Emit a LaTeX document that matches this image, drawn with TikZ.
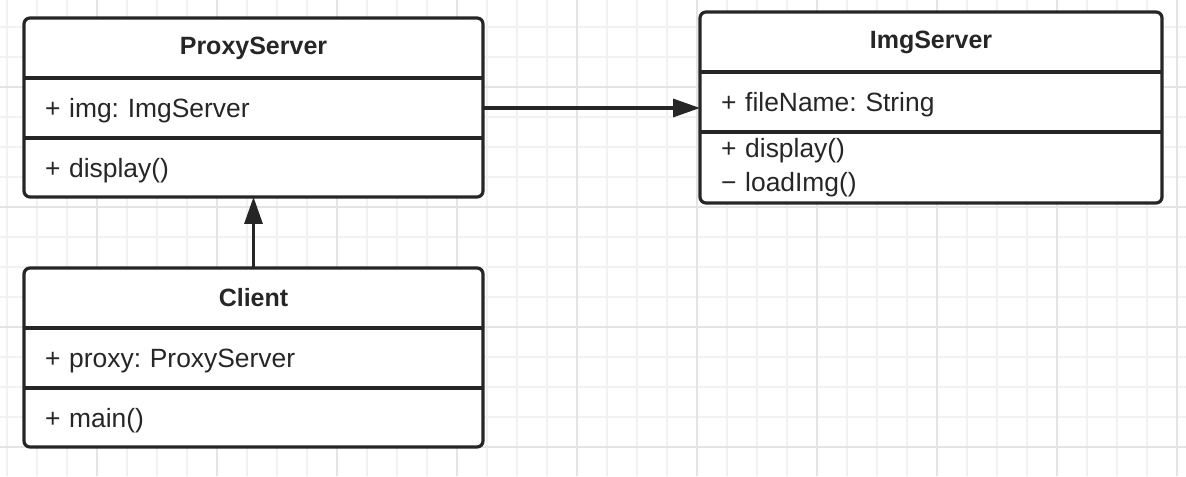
\documentclass[tikz,border=0pt]{standalone}
\usepackage{fontspec}
\setmainfont{Liberation Sans}
\usetikzlibrary{arrows.meta, positioning}
\definecolor{umlline}{HTML}{262626}
\definecolor{gridminor}{HTML}{F1F1F1}
\definecolor{gridmajor}{HTML}{E4E4E4}
\tikzstyle{gridline} = [draw=gridminor, line width=0.9pt]
\tikzstyle{classbox} = [draw=umlline, fill=white, line width=1.6pt, rounded corners=3pt, inner sep=0pt, outer sep=0pt]
\tikzstyle{classname} = [minimum height=30pt, inner sep=0pt, outer sep=0pt, text width=229.5pt, align=center, text=umlline, font=\fontsize{12.5}{17}\selectfont\bfseries]
\tikzstyle{member} = [minimum height=30pt, inner xsep=10.5pt, inner ysep=0pt, outer sep=0pt, text width=208.5pt, align=left, text=umlline]
\tikzstyle{row} = [member, text height=9.5pt, text depth=0pt]
\tikzstyle{divider} = [draw=umlline, line width=1.6pt]
\tikzstyle{arrow} = [draw=umlline, line width=1.6pt, -{Triangle[length=13.5pt, width=9pt]}]
\frenchspacing

\begin{document}
\begin{tikzpicture}[x=1pt, y=1pt, font=\fontsize{13.2}{17}\selectfont]
        \useasboundingbox (0,0) rectangle (593,238);
        % squared paper behind the classes
        \foreach \x in {3.5,18.5,...,590} \draw[gridline] (\x,0) -- (\x,238);
        \foreach \y in {14.5,29.5,...,230} \draw[gridline] (0,\y) -- (593,\y);
        \foreach \x in {48.5,108.5,...,590} \draw[gridline, draw=gridmajor] (\x,0) -- (\x,238);
        \foreach \y in {14.5,74.5,...,230} \draw[gridline, draw=gridmajor] (0,\y) -- (593,\y);

        \node[classbox, minimum width=229.5pt, minimum height=89.5pt, anchor=north west] (proxy) at (12,229) {};
        \node[classname, below=0pt of proxy.north] (proxyname) {ProxyServer};
        \node[row, below=0pt of proxyname] (proxyattr) {+ img: ImgServer};
        \node[row, below=0pt of proxyattr] (proxyops) {+ display()};

        \node[classbox, minimum width=231pt, minimum height=95.5pt, anchor=north west] (img) at (350,232) {};
        \node[classname, text width=231pt, below=0pt of img.north] (imgname) {ImgServer};
        \node[row, text width=210pt, below=0pt of imgname] (imgattr) {+ fileName: String};
        \node[member, text width=210pt, minimum height=35.5pt, below=0pt of imgattr] (imgops) {+ display()\\− loadImg()};

        \node[classbox, minimum width=229.5pt, minimum height=89.5pt, below=35.5pt of proxy] (client) {};
        \node[classname, below=0pt of client.north] (clientname) {Client};
        \node[row, below=0pt of clientname] (clientattr) {+ proxy: ProxyServer};
        \node[row, below=0pt of clientattr] (clientops) {+ main()};

        \foreach \part/\cls in {proxyattr/proxy, proxyops/proxy, imgattr/img, imgops/img, clientattr/client, clientops/client}
            \draw[divider] (\part.north -| \cls.west) -- (\part.north -| \cls.east);

        \draw[arrow] (proxyattr.east) -- (proxyattr.east -| img.west);
        \draw[arrow] (client) -- (proxy);
    \end{tikzpicture}
\end{document}
